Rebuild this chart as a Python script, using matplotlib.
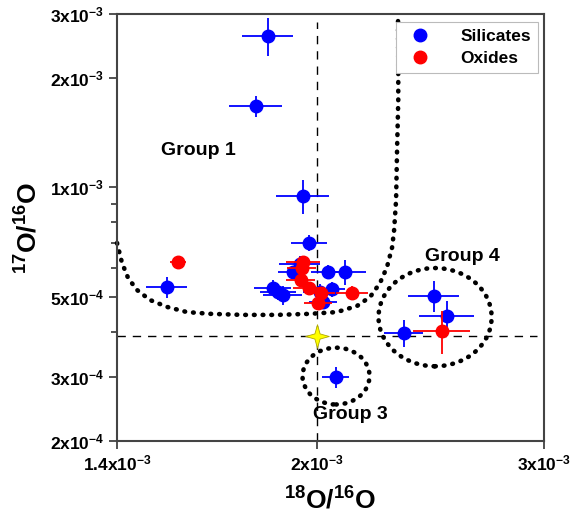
import matplotlib
matplotlib.use("Agg")
import matplotlib.pyplot as plt
from matplotlib.patches import Ellipse
from matplotlib.path import Path
from matplotlib.lines import Line2D

plt.rcParams['font.family'] = ['Liberation Sans', 'DejaVu Sans']
plt.rcParams['font.weight'] = 'bold'
plt.rcParams['mathtext.fontset'] = 'custom'
plt.rcParams['mathtext.bf'] = 'Liberation Sans:bold'
plt.rcParams['mathtext.rm'] = 'Liberation Sans:bold'
plt.rcParams['mathtext.it'] = 'Liberation Sans:bold'
plt.rcParams['mathtext.default'] = 'bf'
plt.rcParams['path.simplify'] = False

# silicates
sil_x = [1.833e-3, 1.794e-3, 1.952e-3, 1.973e-3, 1.941e-3, 1.917e-3, 2.040e-3, 2.103e-3,
         1.849e-3, 1.866e-3, 1.883e-3, 2.011e-3, 2.055e-3, 2.022e-3, 1.530e-3, 2.069e-3,
         2.336e-3, 2.466e-3, 2.524e-3]
sil_y = [2.61e-3, 1.675e-3, 9.46e-4, 7.02e-4, 6.15e-4, 5.84e-4, 5.84e-4, 5.84e-4,
         5.28e-4, 5.15e-4, 5.05e-4, 5.15e-4, 5.24e-4, 4.83e-4, 5.31e-4, 3.00e-4,
         3.97e-4, 5.02e-4, 4.42e-4]
sil_xerr = [8.3e-5, 8.4e-5, 9.2e-5, 6.4e-5, 7.0e-5, 5.0e-5, 6.0e-5, 8.0e-5,
            6.0e-5, 6.0e-5, 6.5e-5, 6.0e-5, 5.0e-5, 5.0e-5, 5.5e-5, 4.9e-5,
            8.0e-5, 1.12e-4, 1.24e-4]
sil_yerr = [3.1e-4, 1.1e-4, 1.0e-4, 3.6e-5, 3.0e-5, 2.0e-5, 2.5e-5, 4.6e-5,
            2.7e-5, 2.5e-5, 3.0e-5, 2.5e-5, 2.5e-5, 2.0e-5, 3.5e-5, 2.0e-5,
            3.4e-5, 5.0e-5, 4.4e-5]

# oxides
oxi_x = [1.561e-3, 1.952e-3, 1.948e-3, 1.944e-3, 1.973e-3, 2.015e-3, 2.005e-3, 2.130e-3, 2.501e-3]
oxi_y = [6.22e-4, 6.22e-4, 5.99e-4, 5.55e-4, 5.28e-4, 5.11e-4, 4.80e-4, 5.11e-4, 4.02e-4]
oxi_xerr = [2.2e-5, 6.0e-5, 5.0e-5, 5.0e-5, 5.5e-5, 5.0e-5, 5.0e-5, 6.0e-5, 1.28e-4]
oxi_yerr = [1.2e-5, 2.0e-5, 2.0e-5, 2.0e-5, 2.0e-5, 2.0e-5, 2.0e-5, 2.3e-5, 5.4e-5]

# solar reference
sun_x = 2.0e-3
sun_y = 3.88e-4

# group 1 boundary
g1_x = [1.400e-3, 1.4125e-3, 1.428e-3, 1.451e-3, 1.485e-3, 1.531e-3, 1.586e-3, 1.653e-3,
        1.753e-3, 1.863e-3, 1.976e-3, 2.073e-3, 2.149e-3, 2.200e-3, 2.239e-3, 2.267e-3,
        2.288e-3, 2.296e-3, 2.304e-3, 2.308e-3, 2.313e-3, 2.313e-3, 2.312e-3]
g1_y = [7.02e-4, 6.19e-4, 5.62e-4, 5.21e-4, 4.89e-4, 4.68e-4, 4.53e-4, 4.48e-4,
        4.45e-4, 4.45e-4, 4.48e-4, 4.53e-4, 4.71e-4, 4.99e-4, 5.45e-4, 6.03e-4,
        6.84e-4, 7.63e-4, 9.22e-4, 1.267e-3, 1.74e-3, 2.24e-3, 2.89e-3]

xticks = [1.4e-3, 2e-3, 3e-3]
xticklabels = ['1.4x10$^{-3}$', '2x10$^{-3}$', '3x10$^{-3}$']
yticks = [2e-4, 3e-4, 5e-4, 1e-3, 2e-3, 3e-3]
yticklabels = ['2x10$^{-4}$', '3x10$^{-4}$', '5x10$^{-4}$', '1x10$^{-3}$', '2x10$^{-3}$', '3x10$^{-3}$']
yminor = [4e-4, 6e-4, 7e-4, 8e-4, 9e-4]

fig = plt.figure(figsize=(5.7, 5.22), dpi=100)
ax = fig.add_axes([0.2053, 0.1552, 0.749, 0.818])
ax.set_xscale('log')
ax.set_yscale('log')
ax.set_xlim(1.4e-3, 3e-3)
ax.set_ylim(2e-4, 3e-3)

dot_style = (0, (0.15, 1.75))
dots = dict(color='black', lw=3.3, linestyle=dot_style, dash_capstyle='round')

# reference lines
ax.axhline(sun_y, xmin=0, xmax=0.984, color='black', lw=1.0, linestyle=(0, (6, 5)), zorder=1)
ax.axvline(sun_x, ymin=0, ymax=0.981, color='black', lw=1.0, linestyle=(0, (6, 5)), zorder=1)

# group outlines
ax.plot(g1_x, g1_y, zorder=2, clip_on=False, **dots)
for cx, cy, w, h in [(0.513, 0.152, 0.157, 0.133), (0.745, 0.290, 0.265, 0.230)]:
    ax.add_patch(Ellipse((cx, cy), w, h, transform=ax.transAxes, fill=False,
                         edgecolor='black', lw=3.3, linestyle=dot_style,
                         capstyle='round', zorder=2))

ax.errorbar(sil_x, sil_y, xerr=sil_xerr, yerr=sil_yerr, fmt='o', color='#0000ff',
            ms=9, elinewidth=1.3, capsize=0, zorder=3)
ax.errorbar(oxi_x, oxi_y, xerr=oxi_xerr, yerr=oxi_yerr, fmt='o', color='#ff0000',
            ms=9, elinewidth=1.3, capsize=0, zorder=4)

star = Path([(0, 1), (0.22, 0.22), (1, 0), (0.22, -0.22), (0, -1), (-0.22, -0.22),
             (-1, 0), (-0.22, 0.22), (0, 1)], closed=True)
ax.plot([sun_x], [sun_y], marker=star, ms=17, mfc='#ffff00', mec='#b0a800', mew=0.6,
        linestyle='none', zorder=5)

ax.text(0.19, 0.68, 'Group 1', transform=ax.transAxes, fontsize=14, fontweight='bold',
        ha='center', va='center')
ax.text(0.546, 0.063, 'Group 3', transform=ax.transAxes, fontsize=14, fontweight='bold',
        ha='center', va='center')
ax.text(0.81, 0.433, 'Group 4', transform=ax.transAxes, fontsize=14, fontweight='bold',
        ha='center', va='center')

ax.set_xticks(xticks)
ax.set_xticklabels(xticklabels, fontweight='bold')
ax.set_xticks([], minor=True)
ax.set_yticks(yticks)
ax.set_yticklabels(yticklabels, fontweight='bold')
ax.set_yticks(yminor, minor=True)
ax.set_yticklabels([], minor=True)
ax.tick_params(which='major', direction='out', length=6, width=1.2, labelsize=12.5, colors='#333333',
               labelcolor='black', pad=3)
ax.tick_params(which='minor', direction='out', length=4.5, width=1.2, colors='#333333')
for s in ax.spines.values():
    s.set_color('#444444')
    s.set_linewidth(1.5)

ax.set_xlabel('$^{18}$O/$^{16}$O', fontsize=19, fontweight='bold', labelpad=10)
ax.set_ylabel('$^{17}$O/$^{16}$O', fontsize=19, fontweight='bold', labelpad=6)

handles = [Line2D([], [], marker='o', color='#0000ff', linestyle='none', ms=9),
           Line2D([], [], marker='o', color='#ff0000', linestyle='none', ms=9)]
leg = ax.legend(handles, ['Silicates', 'Oxides'], loc='upper right',
                prop={'weight': 'bold', 'size': 12.5}, fancybox=False, edgecolor='#bbbbbb',
                framealpha=1, handletextpad=1.3, borderpad=0.4, labelspacing=0.4,
                borderaxespad=0, bbox_to_anchor=(0.986, 0.981))
leg.get_frame().set_linewidth(0.8)

fig.savefig('out.png', dpi=100)
